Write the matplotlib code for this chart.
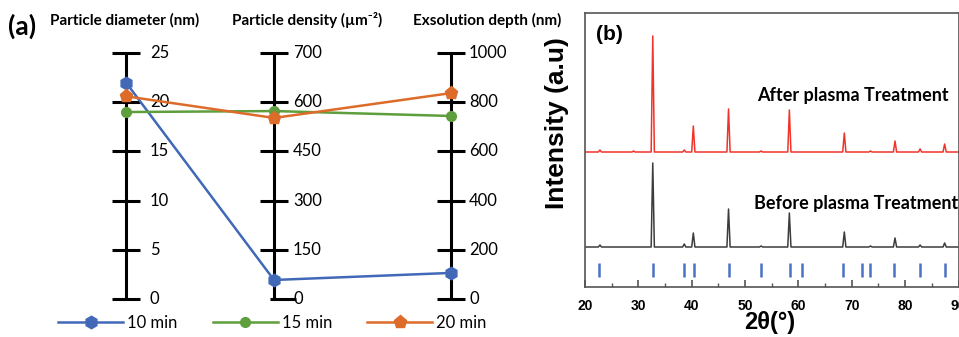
import numpy as np
import matplotlib.pyplot as plt

# ---- panel (a): parallel axes, one series per plasma time ----
series = ["10 min", "15 min", "20 min"]
diameter_nm = [22.0, 19.0, 20.6]
density_um2 = [58, 573, 552]
depth_nm = [106, 744, 837]

diameter_ticks = [0, 5, 10, 15, 20, 25]
density_ticks = [0, 150, 300, 450, 600, 700]
depth_ticks = [0, 200, 400, 600, 800, 1000]

column_titles = ["Particle diameter (nm)", "Particle density (µm⁻²)", "Exsolution depth (nm)"]

# ---- panel (b): XRD peaks (2theta, height above baseline, a.u.) ----
peak_2theta = [22.8, 29.1, 32.7, 38.6, 40.3, 46.9, 53.0, 58.3, 68.6, 73.5, 78.1, 82.8, 87.4]
after_height = [2, 1, 116, 2, 26, 43, 1, 42, 19, 1, 11, 3, 8]
before_height = [2, 0, 84, 3, 14, 38, 1, 34, 15, 1, 9, 2, 4]
ref_2theta = [22.6, 32.8, 38.6, 40.5, 47.0, 53.0, 58.4, 60.7, 68.4, 72.0, 73.4, 78.0, 82.7, 87.4]
after_base = 135
before_base = 40

W, H = 959, 337
fig = plt.figure(figsize=(W / 100, H / 100), dpi=100)

calibri = ["Lato", "DejaVu Sans"]
arial = ["Liberation Sans", "DejaVu Sans"]

# panel (a) axes: x in pixels, y in tick-index units (0..5)
top_px, bot_px = 53, 299
unit = (bot_px - top_px) / 5
ax = fig.add_axes([0, 0, 575 / W, 1])
ax.set_xlim(0, 575)
ax.set_ylim(-(H - bot_px) / unit, 5 + top_px / unit)
ax.axis("off")

col_x = [126, 274, 451]
label_off = [24, 19, 18]
all_ticks = [diameter_ticks, density_ticks, depth_ticks]
idx = np.arange(6)

for cx, off, ticks in zip(col_x, label_off, all_ticks):
    ax.plot([cx, cx], [0, 5], color="black", lw=2.2, solid_capstyle="butt", zorder=2)
    for i, t in enumerate(ticks):
        left, right = cx - 14, cx + 14
        if cx == col_x[1] and i == 0:
            left, right = cx - 4, cx + 22
        ax.plot([left, right], [i, i], color="black", lw=2.2, solid_capstyle="butt", zorder=2)
        ax.text(cx + off, i, str(t), ha="left", va="center", fontsize=12, family=calibri)

colors = ["#4169B8", "#5E9E3C", "#DD6B2A"]
markers = ["h", "o", "p"]
msizes = [9, 7, 9.5]
handles = []
for k in range(3):
    ys = [np.interp(diameter_nm[k], diameter_ticks, idx),
          np.interp(density_um2[k], density_ticks, idx),
          np.interp(depth_nm[k], depth_ticks, idx)]
    ln, = ax.plot(col_x, ys, color=colors[k], lw=1.8, marker=markers[k],
                  markersize=msizes[k], markeredgecolor=colors[k], zorder=3)
    handles.append(ln)

title_cx = [124.5, 307.5, 487.5]
for cx, t in zip(title_cx, column_titles):
    fig.text(cx / W, 1 - 20 / H, t, ha="center", va="center", fontsize=11,
             fontweight="bold", family=calibri)
fig.text(22 / W, 1 - 26 / H, "(a)", ha="center", va="center", fontsize=19,
         fontweight="bold", family=calibri)

fig.legend(handles, series, loc="center left", bbox_to_anchor=(58 / W, 1 - 323 / H),
           ncol=3, frameon=False, handlelength=3.9, columnspacing=2.1,
           handletextpad=0.25, borderpad=0, borderaxespad=0,
           prop={"family": calibri, "size": 12})

# panel (b)
def pattern(base, heights):
    xs, ys = [20], [base]
    for p, h in zip(peak_2theta, heights):
        xs += [p - 0.3, p, p + 0.3]
        ys += [base, base + h, base]
    xs.append(90)
    ys.append(base)
    return xs, ys

bx = fig.add_axes([585 / W, 1 - 287 / H, (958.5 - 585) / W, (287 - 13) / H])
xa, ya = pattern(after_base, after_height)
xb, yb = pattern(before_base, before_height)
bx.plot(xa, ya, color="#F0342A", lw=1.1)
bx.plot(xb, yb, color="#3C3C3C", lw=1.1)
bx.vlines(ref_2theta, 10, 24, color="#4A72C4", lw=1.8)
bx.set_xlim(20, 90)
bx.set_ylim(0, 274)
bx.set_yticks([])
bx.set_xticks(np.arange(20, 91, 10))
bx.set_xticks(np.arange(25, 90, 10), minor=True)
bx.tick_params(axis="x", which="major", direction="in", length=5, width=1.2,
               color="#555555", pad=9)
bx.tick_params(axis="x", which="minor", direction="in", length=3, width=1.0,
               color="#555555")
for lab in bx.get_xticklabels():
    lab.set_family(arial)
    lab.set_fontweight("bold")
    lab.set_fontsize(10)
for s in bx.spines.values():
    s.set_color("#555555")
    s.set_linewidth(1.2)

fig.text(609 / W, 1 - 35 / H, "(b)", ha="center", va="center", fontsize=15,
         fontweight="bold", family=arial)
fig.text(853 / W, 1 - 95 / H, "After plasma Treatment", ha="center", va="center",
         fontsize=13, fontweight="bold", family=calibri)
fig.text(856 / W, 1 - 203 / H, "Before plasma Treatment", ha="center", va="center",
         fontsize=13, fontweight="bold", family=calibri)
fig.text(557 / W, 1 - 123 / H, "Intensity (a.u)", ha="center", va="center",
         rotation=90, fontsize=19, fontweight="bold", family=arial)
fig.text(770 / W, 1 - 323 / H, "2θ(°)", ha="center", va="center", fontsize=17,
         fontweight="bold", family=arial)

fig.savefig("out.png", dpi=100)
